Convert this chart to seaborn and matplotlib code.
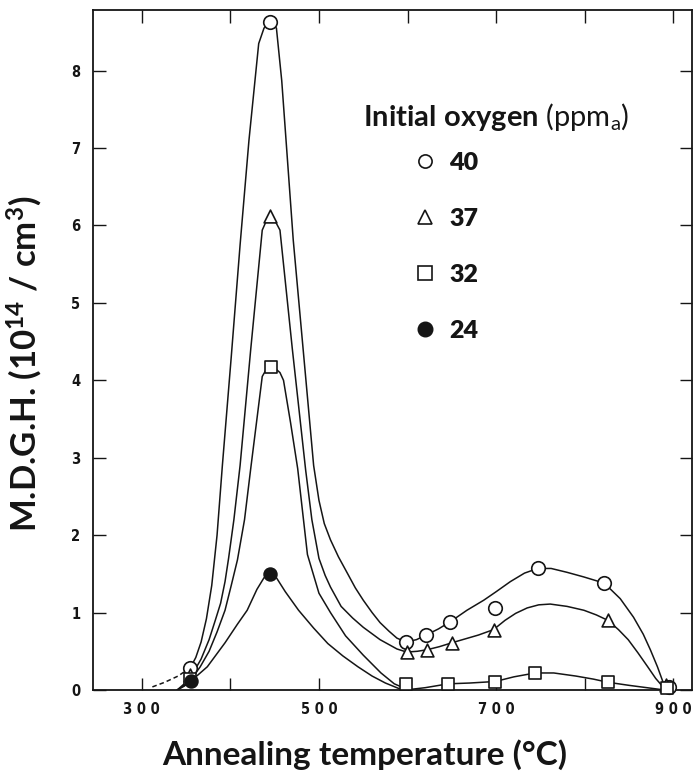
import matplotlib
matplotlib.use("Agg")
import matplotlib.pyplot as plt
from matplotlib.lines import Line2D
from matplotlib.font_manager import FontProperties
import pandas as pd
import seaborn as sns

# ---- measured points: M.D.G.H. (10^14 cm^-3) vs annealing temperature (°C)
oxygen_levels = ["40", "37", "32", "24"]

temp_40 = [355, 445, 598, 621, 648, 699, 747, 822, 895]
mdgh_40 = [0.29, 8.63, 0.62, 0.71, 0.88, 1.06, 1.58, 1.38, 0.04]

temp_37 = [355, 445, 599, 622, 650, 697, 826, 892]
mdgh_37 = [0.20, 6.12, 0.49, 0.52, 0.61, 0.78, 0.90, 0.06]

temp_32 = [355, 446, 598, 646, 699, 744, 826, 893]
mdgh_32 = [0.14, 4.17, 0.08, 0.08, 0.10, 0.22, 0.10, 0.03]

temp_24 = [356, 445]
mdgh_24 = [0.12, 1.50]

# ---- hand-drawn guide curves through the points
curve_40_tail_t = [312, 326, 341, 355]
curve_40_tail_y = [0.04, 0.10, 0.18, 0.29]

curve_40_t = [355, 361, 367, 373, 379, 385, 391, 401, 411, 421, 432, 438, 445,
              452, 458, 464, 471, 482, 494, 500, 506, 513, 522, 532, 541, 550,
              560, 569, 579, 588, 598, 610, 621, 635, 648, 667, 686, 700, 716,
              732, 747, 762, 780, 799, 822, 840, 855, 866, 874, 882, 889, 893]
curve_40_y = [0.29, 0.42, 0.62, 0.92, 1.35, 2.00, 2.90, 4.30, 5.75, 7.10, 8.35,
              8.55, 8.63, 8.55, 7.87, 6.92, 5.81, 4.42, 2.90, 2.45, 2.15, 1.94,
              1.72, 1.51, 1.32, 1.16, 1.00, 0.87, 0.76, 0.67, 0.62, 0.65, 0.71,
              0.79, 0.88, 1.03, 1.16, 1.27, 1.40, 1.51, 1.57, 1.57, 1.52, 1.46,
              1.38, 1.18, 0.94, 0.72, 0.52, 0.30, 0.08, 0.00]

curve_37_t = [340, 348, 357, 367, 376, 383, 389, 394, 398, 404, 411, 423, 436,
              441, 445, 450, 456, 470, 485, 492, 500, 507, 513, 525, 538, 550,
              569, 588, 599, 611, 622, 636, 650, 665, 680, 697, 710, 722, 735,
              748, 761, 780, 799, 813, 826, 838, 849, 860, 871, 880, 889, 893]
curve_37_y = [0.00, 0.08, 0.20, 0.40, 0.65, 0.90, 1.12, 1.40, 1.70, 2.20, 2.90,
              4.40, 5.94, 6.07, 6.15, 6.07, 5.94, 4.40, 2.84, 2.20, 1.70, 1.48,
              1.33, 1.08, 0.93, 0.81, 0.65, 0.53, 0.49, 0.50, 0.52, 0.56, 0.61,
              0.66, 0.71, 0.78, 0.90, 0.99, 1.06, 1.10, 1.11, 1.08, 1.03, 0.97,
              0.90, 0.78, 0.65, 0.48, 0.30, 0.15, 0.03, 0.00]

curve_32_t = [340, 348, 356, 366, 376, 385, 394, 401, 408, 416, 423, 430, 436,
              441, 446, 451, 456, 460, 468, 476, 487, 500, 513, 530, 550, 570,
              585, 595, 605, 620, 646, 670, 699, 720, 744, 765, 790, 810, 826,
              850, 870, 890]
curve_32_y = [0.00, 0.06, 0.14, 0.30, 0.50, 0.75, 1.03, 1.35, 1.68, 2.20, 2.86,
              3.50, 4.05, 4.15, 4.18, 4.15, 4.10, 4.00, 3.45, 2.86, 1.75, 1.25,
              1.00, 0.70, 0.45, 0.22, 0.08, 0.03, 0.01, 0.03, 0.08, 0.09, 0.11,
              0.17, 0.22, 0.22, 0.18, 0.14, 0.10, 0.06, 0.03, 0.00]

curve_24_t = [340, 348, 356, 374, 394, 408, 419, 430, 438, 445, 452, 462, 477,
              494, 510, 527, 544, 560, 575, 590, 598]
curve_24_y = [0.00, 0.05, 0.12, 0.30, 0.61, 0.85, 1.03, 1.30, 1.45, 1.50, 1.45,
              1.27, 1.03, 0.80, 0.60, 0.44, 0.30, 0.18, 0.09, 0.02, 0.00]

x_ticks = [300, 400, 500, 600, 700, 800, 900]
x_tick_labels = ["300", "", "500", "", "700", "", "900"]
y_ticks = [0, 1, 2, 3, 4, 5, 6, 7, 8]

# ---- styling
sns.set_style("ticks")
plt.rcParams["font.family"] = ["Lato", "DejaVu Sans"]
plt.rcParams["mathtext.fontset"] = "custom"
plt.rcParams["mathtext.rm"] = "Lato"
plt.rcParams["mathtext.bf"] = "Lato:bold"
plt.rcParams["mathtext.it"] = "Lato:italic"

ink = "#151515"
line_kw = dict(color=ink, linewidth=1.1, sort=False, estimator=None, legend=False)

fig = plt.figure(figsize=(6.93, 7.74), dpi=100)
ax = fig.add_axes([93 / 693, 84 / 774, 599 / 693, 680.5 / 774])

# guide curves
sns.lineplot(x=curve_40_tail_t, y=curve_40_tail_y, ax=ax, linestyle=(0, (3, 2)), **line_kw)
for t, y in [(curve_40_t, curve_40_y), (curve_37_t, curve_37_y),
             (curve_32_t, curve_32_y), (curve_24_t, curve_24_y)]:
    sns.lineplot(x=t, y=y, ax=ax, **line_kw)

# data points
series = [
    (temp_40, mdgh_40, "o", "white", 95),
    (temp_37, mdgh_37, "^", "white", 85),
    (temp_32, mdgh_32, "s", "white", 80),
    (temp_24, mdgh_24, "o", ink, 85),
]
for t, y, m, fc, s in series:
    df = pd.DataFrame({"T": t, "N": y})
    sns.scatterplot(data=df, x="T", y="N", ax=ax, marker=m, s=s,
                    facecolor=fc, edgecolor=ink, linewidth=1.2, zorder=5,
                    clip_on=False)

ax.set_xlim(245, 921)
ax.set_ylim(0, 8.79)

tick_font = FontProperties(family="DejaVu Sans", weight="bold", stretch="condensed", size=10.5)
ax.set_xticks(x_ticks)
ax.set_xticklabels([" ".join(s) for s in x_tick_labels])
ax.set_yticks(y_ticks)
ax.set_yticklabels([str(v) for v in y_ticks])
for lab in ax.get_xticklabels() + ax.get_yticklabels():
    lab.set_fontproperties(tick_font)
    lab.set_color(ink)

ax.tick_params(direction="in", length=9, width=1.0, color=ink,
               top=True, right=True, labeltop=False, labelright=False)
ax.tick_params(axis="x", pad=9)
ax.tick_params(axis="y", pad=9)
for sp in ax.spines.values():
    sp.set_visible(True)
    sp.set_linewidth(1.3)
    sp.set_color(ink)

ax.set_xlabel("Annealing temperature (°C)", fontsize=24, fontweight="bold", color=ink)
ax.set_ylabel(r"M.D.G.H. (10$^{\mathbf{14}}$ / cm$^{\mathbf{3}}$)", fontsize=25,
              fontweight="bold", color=ink)
ax.xaxis.set_label_coords(0.454, -0.072)
ax.yaxis.set_label_coords(-0.080, 0.48)

# legend
fig.text(363 / 693, 1 - 126 / 774,
         r"$\mathbf{Initial\ oxygen}$ (ppm$_{\mathrm{a}}$)",
         fontsize=21, color=ink, ha="left", va="baseline")

handles = [
    Line2D([], [], linestyle="none", marker="o", markersize=9.5, markerfacecolor="white",
           markeredgecolor=ink, markeredgewidth=1.2),
    Line2D([], [], linestyle="none", marker="^", markersize=10.5, markerfacecolor="white",
           markeredgecolor=ink, markeredgewidth=1.2),
    Line2D([], [], linestyle="none", marker="s", markersize=9.5, markerfacecolor="white",
           markeredgecolor=ink, markeredgewidth=1.2),
    Line2D([], [], linestyle="none", marker="o", markersize=10.5, markerfacecolor=ink,
           markeredgecolor=ink),
]
leg = fig.legend(handles, oxygen_levels, loc="upper left",
                 bbox_to_anchor=(412 / 693, 1 - 152 / 774), frameon=False,
                 prop=dict(family="Lato", weight="heavy", size=18),
                 handlelength=1.0, handletextpad=0.5, labelspacing=1.36,
                 borderpad=0, borderaxespad=0)
for txt in leg.get_texts():
    txt.set_color(ink)

fig.savefig("out.png", dpi=100, facecolor="white")
